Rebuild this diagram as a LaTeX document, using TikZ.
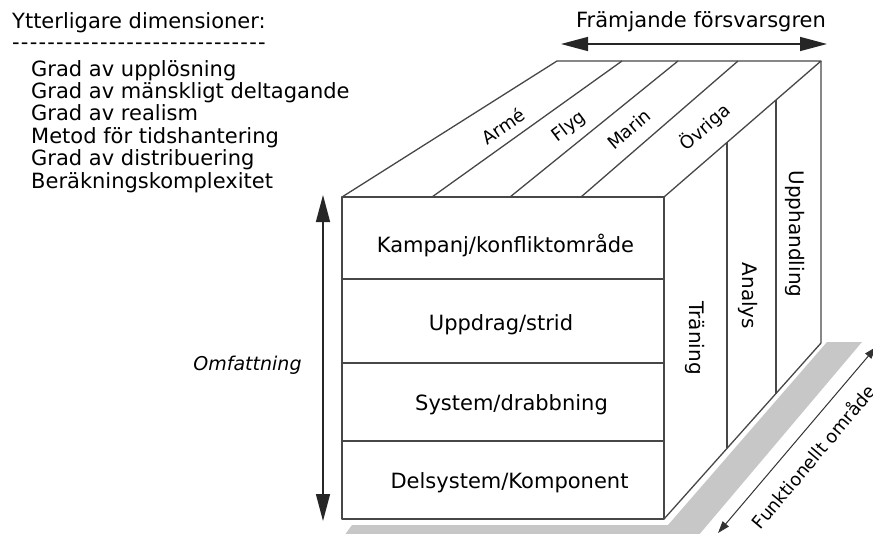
\documentclass[tikz,border=0pt]{standalone}
\usepackage{fontspec}
\setmainfont{DejaVu Sans}
\usetikzlibrary{arrows.meta,calc}
\newcommand\myhy{-\kern1.2pt}
\newcommand\myhyten{\myhy\myhy\myhy\myhy\myhy\myhy\myhy\myhy\myhy\myhy}
\begin{document}
\begin{tikzpicture}[x=1pt,y=-1pt,
  cube/.style={draw=black!72, line width=1.3pt, line join=round},
  txt/.style={inner sep=0pt, font=\fontsize{21}{24}\selectfont},
  toplbl/.style={inner sep=0pt, font=\fontsize{18}{20}\selectfont},
  sidelbl/.style={inner sep=0pt, font=\fontsize{20}{22}\selectfont, rotate=-90},
  dimarrow/.style={line width=1.5pt, draw=black!85, {Triangle[length=27pt,width=14pt]}-{Triangle[length=27pt,width=14pt]}},
  smallarrow/.style={line width=1pt, draw=black!80, {Triangle[length=12pt,width=8pt]}-{Triangle[length=12pt,width=8pt]}},
  shadow/.style={fill=black!22, draw=none}
]
\useasboundingbox (0,0) rectangle (873,533);

% ---- cube coordinates
\coordinate (FTL) at (342,197);
\coordinate (FTR) at (664,197);
\coordinate (FBL) at (342,520);
\coordinate (FBR) at (664,519);
\coordinate (BTL) at (557,61);
\coordinate (BTR) at (821,61);
\coordinate (BBR) at (821,343);

% ---- shadow
\fill[shadow] (344,536) -- (352,525) -- (668,525) -- (827,342) -- (862,342) -- (698,536) -- cycle;

% ---- front face
\draw[cube] (FTL) rectangle (FBR);
\coordinate (D1L) at (342,279); \coordinate (D1R) at (664,279);
\coordinate (D2L) at (342,363); \coordinate (D2R) at (664,363);
\coordinate (D3L) at (342,441); \coordinate (D3R) at (664,441);
\draw[cube] (D1L) -- (D1R);
\draw[cube] (D2L) -- (D2R);
\draw[cube] (D3L) -- (D3R);

% ---- top face
\draw[cube] (FTL) -- (BTL) -- (BTR) -- (FTR);
\coordinate (T1a) at (432,197); \coordinate (T1b) at (622,61);
\coordinate (T2a) at (510,197); \coordinate (T2b) at (678,61);
\coordinate (T3a) at (581,197); \coordinate (T3b) at (738,61);
\draw[cube] (T1a) -- (T1b);
\draw[cube] (T2a) -- (T2b);
\draw[cube] (T3a) -- (T3b);

% ---- right face
\draw[cube] (BTR) -- (BBR) -- (FBR);
\coordinate (R1t) at ($(FTR)!0.401!(BTR)$);
\coordinate (R1b) at ($(FBR)!0.401!(BBR)$);
\coordinate (R2t) at ($(FTR)!0.713!(BTR)$);
\coordinate (R2b) at ($(FBR)!0.713!(BBR)$);
\draw[cube] (R1t) -- (R1b);
\draw[cube] (R2t) -- (R2b);

% ---- labels on faces
\node[txt, anchor=base] (kamp) at (505.5,252) {Kampanj/konfliktområde};
\node[txt, anchor=base] (uppd) at (501,330) {Uppdrag/strid};
\node[txt, anchor=base] (syst) at (511.5,410) {System/drabbning};
\node[txt, anchor=base] (dels) at (509.5,488) {Delsystem/Komponent};

\node[toplbl, rotate=34] (arme) at (503,126) {Armé};
\node[toplbl, rotate=37] (flyg) at (569,127) {Flyg};
\node[toplbl, rotate=40] (marin) at (629,129) {Marin};
\node[toplbl, rotate=41] (ovr) at (705,127) {Övriga};

\node[sidelbl] (tran) at (695,338) {Träning};
\node[sidelbl] (anal) at (748,296) {Analys};
\node[sidelbl] (upph) at (795,234) {Upphandling};

% ---- dimension arrows
\node[txt, anchor=base] (fram) at (701,27) {Främjande försvarsgren};
\coordinate (FA1) at (561,44);
\coordinate (FA2) at (827,44);
\draw[dimarrow] (FA1) -- (FA2);

\node[inner sep=0pt, font=\fontsize{19}{22}\selectfont\itshape, anchor=base] (omf) at (247.5,370) {Omfattning};
\coordinate (OA1) at (323,195);
\coordinate (OA2) at (323,521);
\draw[dimarrow] (OA1) -- (OA2);

\node[inner sep=0pt, font=\fontsize{18}{20}\selectfont, rotate=50] (funk) at (813,456) {Funktionellt område};
\coordinate (KA1) at (718,533);
\coordinate (KA2) at (876,347);
\draw[smallarrow] (KA1) -- (KA2);

% ---- extra dimensions list
\node[txt, anchor=base west] (ytt) at (12,28) {Ytterligare dimensioner:};
\node[txt, anchor=base west] (dash) at (12,49) {\myhyten\myhyten\myhy\myhy\myhy\myhy\myhy\myhy\myhy\myhy-};
\node[txt, anchor=base west] (l1) at (31,76) {Grad av upplösning};
\node[txt, anchor=base west] (l2) at (31,98.4) {Grad av mänskligt deltagande};
\node[txt, anchor=base west] (l3) at (31,120.8) {Grad av realism};
\node[txt, anchor=base west] (l4) at (31,143.2) {Metod för tidshantering};
\node[txt, anchor=base west] (l5) at (31,165.6) {Grad av distribuering};
\node[txt, anchor=base west] (l6) at (31,188) {Beräkningskomplexitet};
\end{tikzpicture}
\end{document}
